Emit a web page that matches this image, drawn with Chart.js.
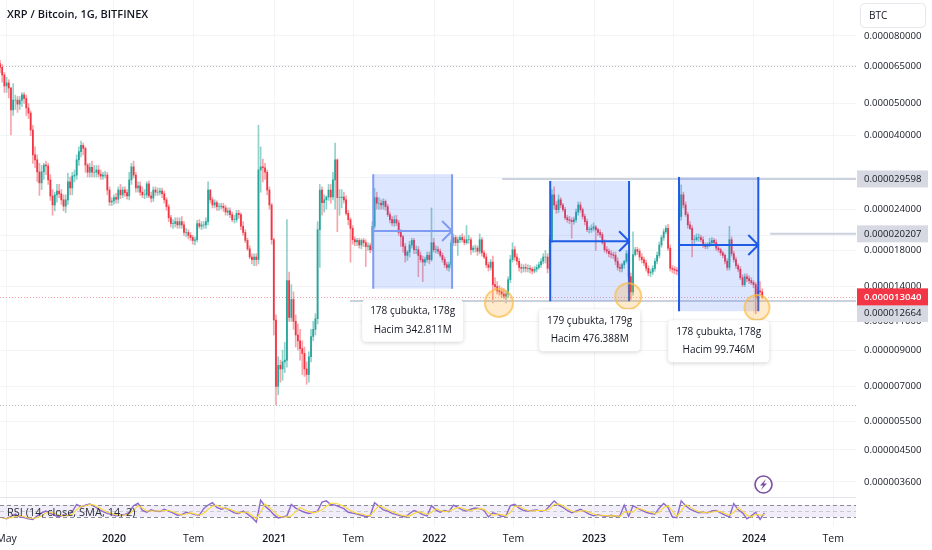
<!DOCTYPE html>
<html>
<head>
<meta charset="utf-8">
<style>
  html, body { margin: 0; padding: 0; background: #fff; overflow: hidden; }
  #wrap { width: 932px; height: 550px; position: relative; }
</style>
<script src="https://cdn.jsdelivr.net/npm/chart.js@4"></script>
</head>
<body>
<div id="wrap"><canvas id="chart" width="932" height="550"></canvas></div>
<script>
/* prices below are in millionths of a BTC, one candle per 5 days from firstDay (days from 1 Jan 2020) */
const firstDay = -260;
const stepDays = 5;

const opens = [
  66,64.3,61,56.5,57.7,55.7,47.8,51.2,51.2,49.8,
  51.2,53.1,51.8,48.5,46.8,41.6,35,33.8,31.1,28.8,
  31.1,32.6,32.4,29.4,26.3,24.7,26.5,27.2,26.7,25.6,
  24.5,25.6,29,27.8,30.2,30.4,33.8,35.8,37.4,36.6,
  32.6,31,32.1,31,31,31.5,30.6,30.2,30.4,30.4,
  27.4,25.2,25.4,26,25.7,27.4,26.5,27.4,26.9,26.3,
  29.4,32.2,30.4,27.8,28.2,27,26.5,26.5,28.6,26.3,
  25.9,27.4,27,27,27.2,26.7,25.6,24.4,22.6,21.7,
  21.7,22,21.5,22,21.5,20.4,20.4,20,19.7,19.3,
  19.4,21.7,21.3,21.5,21.5,22,27.4,25.6,24.7,25.1,
  24.4,24.4,24.5,24.2,23.5,23.7,23.1,22.3,22.3,23.3,
  23.1,21.3,20.4,19.3,18.2,17.2,16.9,17.2,16.9,31.5,
  32.2,32,31,27.4,24.7,19.4,11.1,7,8.1,7.9,
  8.3,8.4,14.6,11.3,12.8,11,10,9.6,9.1,8.8,
  7.9,7.6,8.6,9.9,10.4,11.2,20.8,27.4,25.1,25.6,
  26.1,27.4,26.1,29.4,33.8,26,26,26.1,25.6,23.3,
  22.3,21,19.4,19.1,19.3,18.7,19.3,19,18.5,18.6,
  18.1,21.3,26,25,25,24.7,25.3,24.4,23.1,22.3,
  21.8,22.3,21.8,20.4,19.8,18.5,17.4,17.8,18.7,19.3,
  18.1,18.1,17.4,16.9,16.6,16.9,17.4,16.9,19,18.1,
  18.1,17.9,17.4,16.9,16.3,16,16.3,19,19.7,19,
  19.4,19.7,19.4,19,19.4,19.4,18.1,18.3,18.3,17.9,
  19.4,17.7,17.2,16.3,16,16.6,14.2,14,13.6,13.5,
  13.3,13.1,13.3,14.7,16.9,18.1,17.2,16.7,16,15.9,
  16,15.9,15.9,15.8,15.6,15.8,16,16.3,16.7,17.2,
  17.2,15.9,19.4,26.5,24.7,23.9,25.6,24.7,23.9,22.6,
  22.3,22.2,22,22.3,23.5,24.7,23.9,22.8,22,20.8,
  20.8,21,21.2,20.8,20.4,20.1,19,18.1,17.9,17.6,
  17.5,17.4,16.7,16,15.9,16.3,16.7,17.6,15,13.5,
  17.5,18.1,17.9,17.2,16.9,16.5,15.9,15.4,15.5,15.9,
  16.7,17.4,18.7,19.7,20.5,21,18.3,15.9,15.8,15.7,
  15.6,22.8,26.5,24.7,23.1,21.5,21,19.4,19.4,19.7,
  19.7,19.4,18.7,18.5,18.7,19,19.3,19,18.3,18.1,
  17.7,17.4,16.7,16,19.4,17.6,16.9,16.2,15.8,14.9,
  14.2,15,14.8,14.6,14.4,14.2,13.1,13.6,13.5
];
const highs = [
  67.5,65.5,62,60,59,56,57.4,53,52.5,52.5,
  54,54,53,50,47.5,43,37,35,33,32.5,
  33,33.5,33,30.5,27.5,27,28.5,28.5,27.5,26.5,
  26.5,30.8,30,31,31.5,35,37,38.5,38,37,
  33,33,33.5,32.5,32.5,32.5,31.5,31,31.2,31,
  28,26,26.5,26.8,28,28.5,28,28,27.5,31,
  33,33.5,31,29,29,28,27.5,29,29.2,27,
  28,28,27.8,27.8,27.8,27.2,26,24.8,23,22.3,
  22.6,22.6,22.6,22.8,22,21,20.8,20.4,20,19.8,
  22.2,22.3,22,22,22.6,29,27.5,26,25.6,25.4,
  25,25,25,24.6,24.2,24.2,23.5,23,23.8,23.8,
  23.4,22,20.8,19.6,18.6,17.6,17.6,17.6,43,37,
  34,33,31.5,28,25,19.6,11.5,8.6,8.4,9,
  9.5,22.3,15.5,14.2,13.5,11.5,10.8,10.4,9.6,9.2,
  8.3,8.9,10.4,11,11.6,22,28.5,28,26.5,26.3,
  28.5,28.5,31,38,34,27.5,27.5,27,26.3,23.8,
  22.6,21.4,19.8,19.6,19.6,19.5,19.6,19.4,19,18.9,
  22,27.7,27,26,25.6,25.8,25.6,24.8,23.5,22.8,
  22.9,23,22.2,20.8,20,18.9,18,19.2,19.6,19.6,
  18.6,18.5,17.8,17.3,17.2,17.8,17.8,24.2,19.6,18.6,
  18.5,18.2,17.7,17.2,16.6,16.6,19.4,20.2,20,19.8,
  20,20.2,19.9,21.4,20,19.7,18.6,18.7,18.6,20.2,
  19.7,18,17.6,16.6,16.9,17.3,14.9,14.5,14.1,13.9,
  13.8,13.6,15,17.4,19,18.5,17.6,17,16.4,16.3,
  16.4,16.3,16.2,16,16.1,16.3,16.6,17,17.6,18,
  17.6,20,27.5,28,25.3,26.5,26,25,24.3,23,
  22.8,22.6,22.7,24,25.2,25.2,24.2,23.2,22.4,21.2,
  21.5,21.8,21.4,21,20.8,20.4,19.4,18.5,18.2,18,
  17.8,17.8,17.1,16.4,16.5,16.8,18,18,15.4,20.5,
  18.4,18.4,18.2,17.6,17.2,16.8,16.2,15.8,16.2,17,
  17.8,19.1,20,20.9,21.4,21.6,18.7,16.2,16.1,16,
  23.4,28.4,27,25.2,23.5,22,21.4,20,20.2,20.2,
  20,19.8,19,19,19.6,19.7,19.6,19.4,18.6,18.3,
  17.9,17.6,17,21.3,19.8,17.9,17.2,16.4,16.1,15.2,
  15.3,15.3,15.1,14.9,14.6,14.4,13.9,14.5,13.8
];
const lows = [
  62,58,54,54,52,40.2,46,48,47,48,
  49,50,46,45,40,33,32,29,26.4,27.5,
  29.5,30.5,28.5,25.5,23,23.7,25.2,26,24.8,23.7,
  23.4,24.8,26.5,26.5,29,29.5,32.5,34.5,35,31,
  30,30,30,30,30,30,29.5,29.5,29.8,26.5,
  24.6,24.6,24.8,25,25,25.8,26,26.2,25.7,25.6,
  28.5,29.8,27,27,26.4,26,25.8,26,26,25.2,
  25.3,26.4,26.4,26.5,26,25,23.8,22,21.2,21,
  21.2,21,21,21,20,19.8,19.5,19.3,18.8,18.7,
  19.1,21,20.8,21,21,21.5,25,24.2,24.2,23.8,
  23.8,24,23.6,23,23,22.6,22,21.8,21.9,22.5,
  20.8,20,19,18,17,16.4,16.2,16.2,16.4,27,
  29,29.5,26.5,24,18.8,10,6.15,6.6,7.2,7.3,
  7.7,8,11,11,10.4,9.2,9,8.4,7.6,7.5,
  7.1,7.2,8.3,9.6,10,10.8,16,23,23.5,24,
  25.5,25,25.6,24,20.5,23,24.2,25,23,21.5,
  16.6,18.8,18.6,18.6,18.3,18.2,18.5,16.1,18,17.7,
  17.9,21,24,24,24,24,23.8,22.8,21.8,21.4,
  21.3,21.4,20,18.5,17.8,16.6,16.8,17.2,18.3,17.6,
  17.6,15,16.6,14.5,16.2,16.6,16.4,16.7,17.8,17.7,
  17.6,17.2,16.6,16,15.7,15.6,15.9,18.6,18.6,17.4,
  19,19.1,18.7,18.8,18.9,17.5,17.8,17.8,17.4,17.6,
  17.3,17,16,15.6,15.7,12.5,13.7,13.3,13.2,13,
  12.9,12.5,13,14.4,16.6,16.8,16.3,15.6,15.4,15.5,
  15.5,15.5,15.4,15.3,15.4,15.5,15.8,16,16.4,16.5,
  15.4,15.7,19,24,23.3,23.4,24.2,23.6,22.3,21.9,
  21.7,19.6,21.6,21.9,23,23.5,22.4,21.5,20.5,20.3,
  20.4,20.6,18,20,19.7,18.8,17.8,17.6,17.2,17.1,
  17,16.3,15.7,15.5,15.5,15.9,16.5,13.4,12.8,13.2,
  17.3,17.5,16.8,16.5,16.2,15.6,15.1,15,15.2,15.6,
  16.4,17.1,18.4,19.3,20.2,18,15.6,15.4,15.3,15.2,
  15.3,22.2,24.2,22.8,21,20.8,17.2,18.9,19.2,19.2,
  19.1,18.4,18.2,18.2,18.5,18.7,18.6,18,17.8,17.4,
  17.1,16.4,15.7,15.7,17.3,16.6,15.9,15.5,14.7,14,
  14,14.5,14.3,14.2,13.9,11.6,12.8,13.2,12.9
];
const closes = [
  64.3,61,56.5,57.7,55.7,47.8,51.2,51.2,49.8,51.2,
  53.1,51.8,48.5,46.8,41.6,35,33.8,31.1,28.8,31.1,
  32.6,32.4,29.4,26.3,24.7,26.5,27.2,26.7,25.6,24.5,
  25.6,29,27.8,30.2,30.4,33.8,35.8,37.4,36.6,32.6,
  31,32.1,31,31,31.5,30.6,30.2,30.4,30.4,27.4,
  25.2,25.4,26,25.7,27.4,26.5,27.4,26.9,26.3,29.4,
  32.2,30.4,27.8,28.2,27,26.5,26.5,28.6,26.3,25.9,
  27.4,27,27,27.2,26.7,25.6,24.4,22.6,21.7,21.7,
  22,21.5,22,21.5,20.4,20.4,20,19.7,19.3,19.4,
  21.7,21.3,21.5,21.5,22,27.4,25.6,24.7,25.1,24.4,
  24.4,24.5,24.2,23.5,23.7,23.1,22.3,22.3,23.3,23.1,
  21.3,20.4,19.3,18.2,17.2,16.9,17.2,16.9,31.5,32.2,
  32,31,27.4,24.7,19.4,11.1,7,8.1,7.9,8.3,
  8.4,14.6,11.3,12.8,11,10,9.6,9.1,8.8,7.9,
  7.6,8.6,9.9,10.4,11.2,20.8,27.4,25.1,25.6,26.1,
  27.4,26.1,29.4,33.8,26,26,26.1,25.6,23.3,22.3,
  21,19.4,19.1,19.3,18.7,19.3,19,18.5,18.6,18.1,
  21.3,26,25,25,24.7,25.3,24.4,23.1,22.3,21.8,
  22.3,21.8,20.4,19.8,18.5,17.4,17.8,18.7,19.3,18.1,
  18.1,17.4,16.9,16.6,16.9,17.4,16.9,19,18.1,18.1,
  17.9,17.4,16.9,16.3,16,16.3,19,19.7,19,19.4,
  19.7,19.4,19,19.4,19.4,18.1,18.3,18.3,17.9,19.4,
  17.7,17.2,16.3,16,16.6,14.2,14,13.6,13.5,13.3,
  13.1,13.3,14.7,16.9,18.1,17.2,16.7,16,15.9,16,
  15.9,15.9,15.8,15.6,15.8,16,16.3,16.7,17.2,17.2,
  15.9,19.4,26.5,24.7,23.9,25.6,24.7,23.9,22.6,22.3,
  22.2,22,22.3,23.5,24.7,23.9,22.8,22,20.8,20.8,
  21,21.2,20.8,20.4,20.1,19,18.1,17.9,17.6,17.5,
  17.4,16.7,16,15.9,16.3,16.7,17.6,15,13.5,17.5,
  18.1,17.9,17.2,16.9,16.5,15.9,15.4,15.5,15.9,16.7,
  17.4,18.7,19.7,20.5,21,18.3,15.9,15.8,15.7,15.6,
  22.8,26.5,24.7,23.1,21.5,21,19.4,19.4,19.7,19.7,
  19.4,18.7,18.5,18.7,19,19.3,19,18.3,18.1,17.7,
  17.4,16.7,16,19.4,17.6,16.9,16.2,15.8,14.9,14.2,
  15,14.8,14.6,14.4,14.2,13.1,13.6,13.5,13.04
];

/* RSI pane, one reading per 10 days */
const rsiStepDays = 10;
const rsiValues = [
  28,24,32,40,30,28,24,22,34,44,
  50,42,36,30,38,34,48,72,64,70,
  74,66,56,48,42,38,34,36,38,46,
  68,76,52,46,54,50,48,56,50,44,
  36,38,46,42,38,36,58,70,78,62,
  56,60,52,44,42,50,40,28,13,86,
  66,54,38,27,30,34,72,60,52,46,
  42,46,50,80,84,72,70,64,58,46,
  43,40,36,32,34,78,66,54,50,42,
  38,34,30,42,52,46,38,34,68,54,
  46,52,48,70,62,54,50,56,60,58,
  52,30,44,40,32,34,68,73,60,52,
  50,52,54,50,52,68,84,70,62,52,
  44,50,56,48,40,34,38,34,32,36,
  32,34,70,32,68,60,52,46,42,40,
  60,75,62,30,28,84,68,56,50,44,
  46,44,50,52,44,36,30,75,54,44,
  24,34,46,22,44
];
const rsiSma = [
  26,26,28,32,35,31,27,25,28,34,
  44,46,42,36,34,36,40,55,66,68,
  72,70,62,54,46,42,38,36,37,40,
  52,68,60,50,50,50,50,52,52,48,
  42,37,40,44,40,37,42,56,66,70,
  62,58,56,50,44,46,46,36,24,46,
  74,62,48,34,30,30,34,48,62,54,
  48,44,48,54,66,76,76,72,66,56,
  48,42,40,36,34,52,68,62,54,48,
  42,37,34,34,42,48,44,38,46,58,
  52,48,50,56,62,60,54,52,56,58,
  56,44,36,40,38,34,46,66,66,58,
  52,50,52,52,52,58,72,74,68,58,
  50,46,50,52,46,40,36,36,34,34,
  34,32,46,48,46,60,56,50,46,42,
  46,62,68,50,32,50,72,64,54,48,
  45,46,46,50,48,42,36,46,62,50,
  36,30,40,36,38
];

/* axes */
const priceTicks = [80, 65, 50, 40, 30, 24, 20, 18, 14, 11, 9, 7, 5.5, 4.5, 3.6];
const timeTickDays = [-245, 0, 182, 366, 547, 731, 912, 1096, 1277, 1461, 1642];
const timeTickLabels = ['May', '2020', 'Tem', '2021', 'Tem', '2022', 'Tem', '2023', 'Tem', '2024', 'Tem'];

/* drawings on the chart */
const rangeStartDays = [592, 996, 1290];
const rangeEndDays = [772, 1176, 1471];
const rangeTops = [30.6, 29.2, 30];
const rangeBottoms = [13.8, 12.65, 11.8];
const rangeArrowPrices = [20.6, 19.2, 18.7];
const rangeLabels = [
  ['178 çubukta, 178g', 'Hacim 342.811M'],
  ['179 çubukta, 179g', 'Hacim 476.388M'],
  ['178 çubukta, 178g', 'Hacim 99.746M']
];
const levelPrices = [29.598, 20.207, 12.664];
const levelStartDays = [886, 1498, 539];
const circleDays = [879, 1174, 1468];
const circlePrices = [12.5, 13.1, 12.1];
const lastPrice = 13.04;
const dottedPrices = [65, 6.15];

const FONT = '"Open Sans", sans-serif';
const UP = '#26a69a', DOWN = '#f23645';

function fmt(v) { return (v / 1e6).toFixed(9); }

const candleUp = closes.map((c, i) => c >= opens[i]);

const overlays = {
  id: 'overlays',
  beforeDatasetsDraw(chart) {
    const { ctx, scales: { x, y, rsi } } = chart;
    ctx.save();
    // rsi band
    ctx.fillStyle = 'rgba(126,87,194,0.1)';
    ctx.fillRect(x.left, rsi.getPixelForValue(70), x.width, rsi.getPixelForValue(30) - rsi.getPixelForValue(70));
    ctx.setLineDash([4, 3]);
    ctx.lineWidth = 1;
    [[70, '#8a8d97'], [50, '#c9c9d2'], [30, '#8a8d97']].forEach(([v, col]) => {
      const py = Math.round(rsi.getPixelForValue(v)) + 0.5;
      ctx.strokeStyle = col;
      ctx.beginPath(); ctx.moveTo(x.left, py); ctx.lineTo(x.right, py); ctx.stroke();
    });
    // dotted levels
    ctx.setLineDash([1, 2]);
    ctx.strokeStyle = '#b8bbc4';
    dottedPrices.forEach(p => {
      const py = Math.round(y.getPixelForValue(p)) + 0.5;
      ctx.beginPath(); ctx.moveTo(x.left, py); ctx.lineTo(x.right, py); ctx.stroke();
    });
    ctx.strokeStyle = '#f7a3ab';
    const lastY = Math.round(y.getPixelForValue(lastPrice)) + 0.5;
    ctx.beginPath(); ctx.moveTo(x.left, lastY); ctx.lineTo(x.right, lastY); ctx.stroke();
    ctx.restore();
  },
  afterDatasetsDraw(chart) {
    const { ctx, scales: { x, y } } = chart;
    ctx.save();

    // pane separator
    ctx.strokeStyle = '#e4e6ec';
    ctx.lineWidth = 1;
    ctx.beginPath(); ctx.moveTo(0, y.bottom + 0.5); ctx.lineTo(x.right, y.bottom + 0.5); ctx.stroke();

    // horizontal rays
    ctx.strokeStyle = '#ccd1de';
    ctx.lineWidth = 2;
    levelPrices.forEach((p, i) => {
      const py = y.getPixelForValue(p);
      ctx.beginPath(); ctx.moveTo(x.getPixelForValue(levelStartDays[i]), py); ctx.lineTo(x.right, py); ctx.stroke();
    });

    // date ranges
    rangeStartDays.forEach((d, i) => {
      const x0 = x.getPixelForValue(d), x1 = x.getPixelForValue(rangeEndDays[i]);
      const top = y.getPixelForValue(rangeTops[i]), bot = y.getPixelForValue(rangeBottoms[i]);
      const col = i === 0 ? '#7f9cf2' : '#1f5ce6';
      ctx.fillStyle = 'rgba(41,98,255,0.16)';
      ctx.fillRect(x0, top, x1 - x0, bot - top);
      ctx.strokeStyle = col;
      ctx.lineWidth = 2;
      ctx.beginPath();
      ctx.moveTo(x0, top); ctx.lineTo(x0, bot);
      ctx.moveTo(x1, top); ctx.lineTo(x1, bot);
      const ay = y.getPixelForValue(rangeArrowPrices[i]);
      ctx.moveTo(x0, ay); ctx.lineTo(x1, ay);
      ctx.moveTo(x1 - 10, ay - 10); ctx.lineTo(x1, ay); ctx.lineTo(x1 - 10, ay + 10);
      ctx.stroke();
    });

    // orange circles
    circleDays.forEach((d, i) => {
      ctx.beginPath();
      ctx.arc(x.getPixelForValue(d), y.getPixelForValue(circlePrices[i]), [14, 13, 12.5][i], 0, Math.PI * 2);
      ctx.fillStyle = 'rgba(255,152,0,0.2)';
      ctx.fill();
      ctx.strokeStyle = 'rgba(249,190,70,0.7)';
      ctx.lineWidth = 2;
      ctx.stroke();
    });

    // range labels
    rangeLabels.forEach((lines, i) => {
      const cx = x.getPixelForValue((rangeStartDays[i] + rangeEndDays[i]) / 2);
      const top = y.getPixelForValue(rangeBottoms[i]) + [11, 8, 9][i];
      ctx.save();
      ctx.shadowColor = 'rgba(0,0,0,0.18)';
      ctx.shadowBlur = 4;
      ctx.shadowOffsetY = 1;
      ctx.fillStyle = '#fff';
      ctx.beginPath();
      ctx.roundRect(cx - 50.5, top, 101, 42, 4);
      ctx.fill();
      ctx.restore();
      ctx.fillStyle = '#131722';
      ctx.font = '10px ' + FONT;
      ctx.textAlign = 'center';
      ctx.textBaseline = 'middle';
      ctx.fillText(lines[0], cx, top + 11.5);
      ctx.fillText(lines[1], cx, top + 30);
    });

    // price tags, the last one pushed down clear of the red tag
    ctx.textAlign = 'left';
    ctx.textBaseline = 'middle';
    levelPrices.forEach((p, i) => {
      const py = y.getPixelForValue(p) + (i === 2 ? 12.5 : 0);
      ctx.fillStyle = '#d6d9e1';
      ctx.fillRect(857, py - 8.5, 71, 17);
      ctx.fillStyle = '#131722';
      ctx.font = '9.6px ' + FONT;
      ctx.fillText(fmt(p), 864, py);
    });
    const tagY = y.getPixelForValue(lastPrice);
    ctx.fillStyle = DOWN;
    ctx.fillRect(857, tagY - 8.5, 71, 17);
    ctx.fillStyle = '#fff';
    ctx.font = '600 9.6px ' + FONT;
    ctx.fillText(fmt(lastPrice), 864, tagY);

    // header, currency box, rsi title
    ctx.fillStyle = '#131722';
    ctx.font = '600 11px ' + FONT;
    ctx.fillText('XRP / Bitcoin, 1G, BITFINEX', 7, 15);
    ctx.font = '11px ' + FONT;
    ctx.fillStyle = '#2a2e39';
    ctx.fillText('RSI (14, close, SMA, 14, 2)', 7, 513);
    ctx.strokeStyle = '#e6e7ec';
    ctx.lineWidth = 1;
    ctx.beginPath();
    ctx.roundRect(860.5, 3.5, 65, 24, 4);
    ctx.stroke();
    ctx.fillStyle = '#131722';
    ctx.font = '10px ' + FONT;
    ctx.fillText('BTC', 869, 16);

    // lightning badge
    ctx.strokeStyle = '#7b4fa3';
    ctx.lineWidth = 1.6;
    ctx.beginPath();
    ctx.arc(763.5, 484.5, 8.5, 0, Math.PI * 2);
    ctx.stroke();
    ctx.fillStyle = '#7b4fa3';
    ctx.beginPath();
    ctx.moveTo(766, 479); ctx.lineTo(760, 485.5); ctx.lineTo(763.2, 485.5);
    ctx.lineTo(761, 490); ctx.lineTo(767, 483.5); ctx.lineTo(763.8, 483.5);
    ctx.closePath();
    ctx.fill();
    ctx.restore();
  }
};

new Chart(document.getElementById('chart').getContext('2d'), {
  data: {
    datasets: [
      {
        type: 'bar', yAxisID: 'y', barThickness: 1, grouped: false,
        data: closes.map((c, i) => ({ x: firstDay + i * stepDays, y: [lows[i], highs[i]] })),
        backgroundColor: candleUp.map(u => u ? 'rgba(38,166,154,0.5)' : 'rgba(242,54,69,0.45)')
      },
      {
        type: 'bar', yAxisID: 'y', barThickness: 1.1, grouped: false,
        data: closes.map((c, i) => ({ x: firstDay + i * stepDays, y: [opens[i], c] })),
        backgroundColor: candleUp.map(u => u ? UP : DOWN)
      },
      {
        type: 'line', yAxisID: 'rsi', order: 1, pointRadius: 0, borderWidth: 1.1, borderColor: '#fdd835',
        data: rsiSma.map((v, i) => ({ x: firstDay + 5 + i * rsiStepDays, y: v }))
      },
      {
        type: 'line', yAxisID: 'rsi', order: 2, pointRadius: 0, borderWidth: 1.4, borderColor: '#8c69d0',
        data: rsiValues.map((v, i) => ({ x: firstDay + 5 + i * rsiStepDays, y: v }))
      }
    ]
  },
  options: {
    responsive: false,
    animation: false,
    events: [],
    parsing: { xAxisKey: 'x', yAxisKey: 'y' },
    layout: { padding: 0, autoPadding: false },
    plugins: { legend: { display: false }, tooltip: { enabled: false } },
    scales: {
      x: {
        type: 'linear', offset: false, min: -260, max: 1694,
        afterBuildTicks: s => { s.ticks = timeTickDays.map(v => ({ value: v })); },
        // no label margin, the first label is cut by the edge of the page
        afterFit: s => { s.height = 24; s.paddingLeft = 0; s.paddingRight = 0; },
        grid: { color: '#f3f4f6', offset: false, drawTicks: false },
        border: { display: false },
        ticks: {
          autoSkip: false, maxRotation: 0, padding: 7, color: '#131722',
          font: ctx => ({ family: FONT, size: 10.5, weight: /^\d/.test(timeTickLabels[ctx.index]) ? '600' : '400' }),
          callback: (v, i) => timeTickLabels[i]
        }
      },
      y: {
        type: 'logarithmic', position: 'right', stack: 'panes', stackWeight: 497, min: 3.243, max: 102.7,
        afterBuildTicks: s => { s.ticks = priceTicks.map(v => ({ value: v })); },
        afterFit: s => { s.width = 76; s.paddingTop = 0; s.paddingBottom = 0; },
        grid: { color: '#f3f4f6', drawTicks: false },
        border: { display: false },
        ticks: { padding: 8, color: '#131722', font: { family: FONT, size: 9.6 }, callback: v => fmt(v) }
      },
      rsi: {
        type: 'linear', position: 'right', stack: 'panes', stackWeight: 29, min: 0, max: 97,
        afterFit: s => { s.width = 76; s.paddingTop = 0; s.paddingBottom = 0; },
        grid: { display: false },
        border: { display: false },
        ticks: { display: false }
      }
    }
  },
  plugins: [overlays]
});
</script>
</body>
</html>
